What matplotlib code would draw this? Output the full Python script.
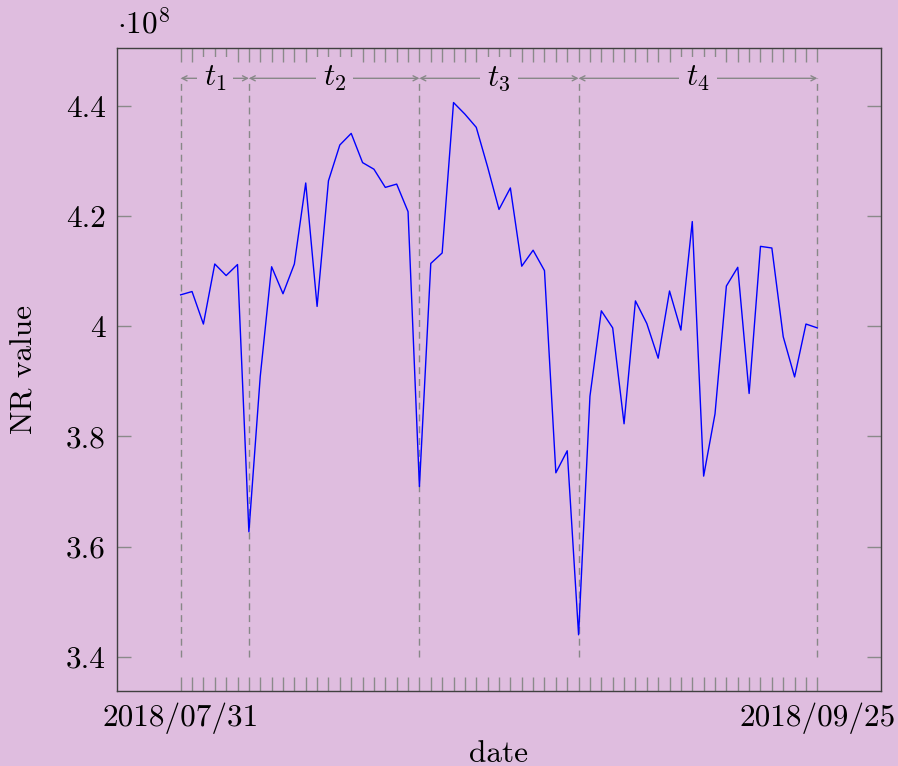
import matplotlib
matplotlib.use("Agg")
import matplotlib.pyplot as plt
import numpy as np

plt.rcParams['font.family'] = 'serif'
plt.rcParams['font.serif'] = ['cmr10']
plt.rcParams['mathtext.fontset'] = 'cm'
plt.rcParams['axes.formatter.use_mathtext'] = True

BG = '#dfbddf'

# data (units of 1e8), one value per day from 2018/07/31 to 2018/09/25
values = [4.057, 4.063, 4.004, 4.113, 4.092, 4.112, 3.627, 3.909, 4.108, 4.059,
          4.113, 4.260, 4.036, 4.264, 4.329, 4.350, 4.297, 4.285, 4.252, 4.258,
          4.208, 3.709, 4.114, 4.133, 4.406, 4.385, 4.361, 4.289, 4.212, 4.251,
          4.109, 4.138, 4.101, 3.734, 3.774, 3.440, 3.873, 4.028, 3.997, 3.823,
          4.046, 4.005, 3.942, 4.064, 3.993, 4.190, 3.728, 3.841, 4.073, 4.107,
          3.878, 4.145, 4.142, 3.981, 3.908, 4.004, 3.997]
days = list(range(len(values)))

xtick_pos = [0, 56]
xtick_labels = ['2018/07/31', '2018/09/25']
yticks = [3.4, 3.6, 3.8, 4.0, 4.2, 4.4]
ytick_labels = ['3.4', '3.6', '3.8', '4', '4.2', '4.4']

boundaries = [0, 6, 21, 35, 56]
phase_labels = ['$t_1$', '$t_2$', '$t_3$', '$t_4$']
dash_bottom, dash_top = 3.4, 4.45
arrow_y = 4.45

fig = plt.figure(figsize=(8.98, 7.66), dpi=100, facecolor=BG)
ax = fig.add_axes([117/898, 1-691/766, (881-117)/898, (691-48)/766])
ax.set_facecolor(BG)

ax.plot(days, values, color='#0000ff', lw=1.0, zorder=3)

ax.vlines(boundaries, dash_bottom, dash_top, colors='#888888', lw=1.0,
          linestyles=(0, (5, 3.5)), zorder=2)

for (a, b), lab in zip(zip(boundaries[:-1], boundaries[1:]), phase_labels):
    ax.annotate('', xy=(b, arrow_y), xytext=(a, arrow_y),
                arrowprops=dict(arrowstyle='<->,head_length=0.35,head_width=0.18',
                                color='#888888', lw=1.0, shrinkA=0, shrinkB=0))
    ax.text((a + b) / 2, arrow_y, lab, ha='center', va='center', fontsize=22.5,
            bbox=dict(facecolor=BG, edgecolor='none', pad=5), zorder=4)

ax.set_xlim(-5.6, 61.6)
ax.set_ylim(3.338, 4.505)

ax.set_xticks(xtick_pos)
ax.set_xticklabels(xtick_labels)
ax.set_xticks(days, minor=True)
ax.set_yticks(yticks)
ax.set_yticklabels(ytick_labels)

ax.tick_params(axis='both', which='both', direction='in', top=True, right=True,
               color='#8a8a8a', labelsize=22.5, pad=8)
ax.tick_params(axis='x', which='major', length=10, width=1.0)
ax.tick_params(axis='x', which='minor', length=10, width=1.0)
ax.tick_params(axis='y', which='major', length=10, width=1.0)
ax.tick_params(axis='y', which='minor', length=0)

for s in ax.spines.values():
    s.set_color('#404040')
    s.set_linewidth(1.0)

ax.set_xlabel('date', fontsize=22.5, labelpad=5)
ax.set_ylabel('NR value', fontsize=22.5, labelpad=20)
ax.text(0.0, 1.012, r'$\cdot 10^8$', transform=ax.transAxes, ha='left', va='bottom',
        fontsize=22.5)

fig.savefig('out.png', dpi=100, facecolor=BG)
